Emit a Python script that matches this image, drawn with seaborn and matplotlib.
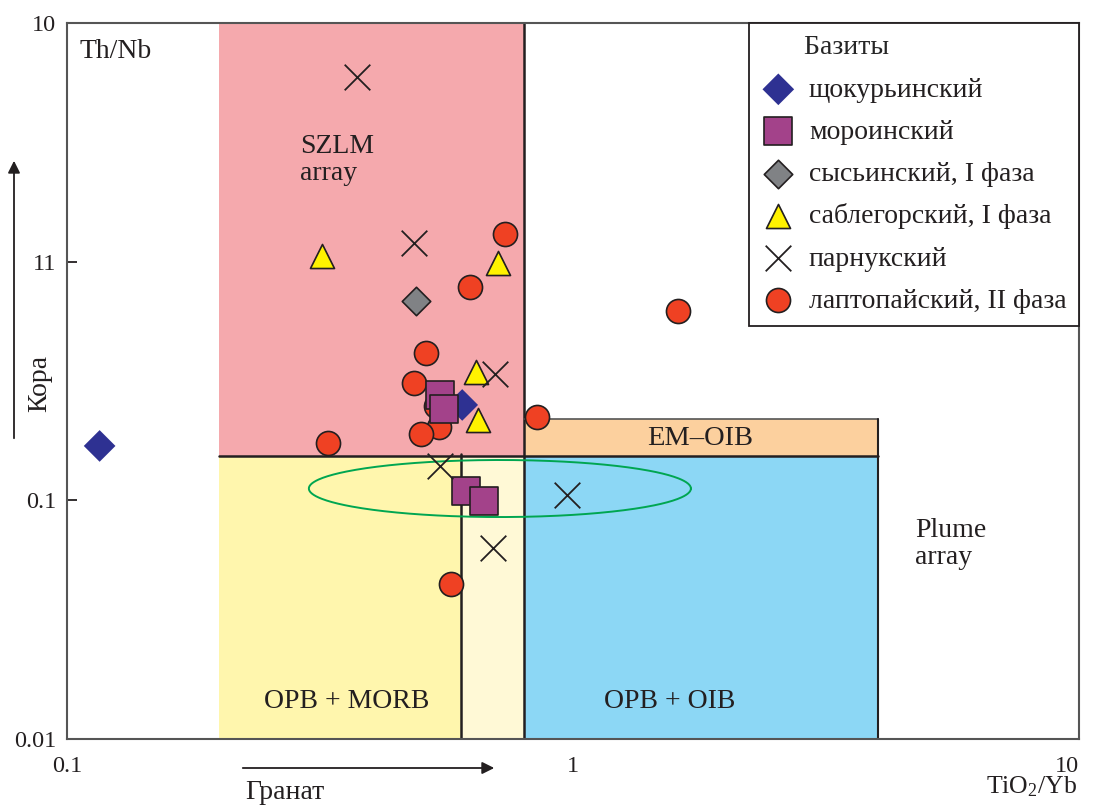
import numpy as np
import pandas as pd
import matplotlib
matplotlib.use("Agg")
import matplotlib.pyplot as plt
from matplotlib.patches import Rectangle, FancyArrowPatch
import seaborn as sns

sns.set_theme(style="white")
plt.rcParams["font.family"] = ["Liberation Serif", "DejaVu Serif"]
plt.rcParams["mathtext.fontset"] = "custom"
plt.rcParams["mathtext.rm"] = "Liberation Serif"
plt.rcParams["mathtext.it"] = "Liberation Serif:italic"

# --- sample data: TiO2/Yb (x) and Th/Nb (y) ---
shchok_x = [0.116, 0.604]
shchok_y = [0.169, 0.251]

moro_x = [0.546, 0.556, 0.615, 0.667]
moro_y = [0.277, 0.242, 0.109, 0.099]

sysya_x = [0.490]
sysya_y = [0.684]

sableg_x = [0.319, 0.711, 0.643, 0.649]
sableg_y = [1.06, 0.99, 0.345, 0.217]

parnuk_x = [0.374, 0.485, 0.702, 0.546, 0.973, 0.695]
parnuk_y = [5.94, 1.20, 0.339, 0.139, 0.105, 0.0632]

lapto_x = [0.734, 0.625, 1.61, 0.512, 0.485, 0.536, 0.543, 0.501, 0.328, 0.849, 0.574]
lapto_y = [1.31, 0.783, 0.622, 0.415, 0.310, 0.249, 0.203, 0.190, 0.174, 0.224, 0.0447]

labels = ["щокурьинский", "мороинский", "сысьинский, I фаза",
          "саблегорский, I фаза", "парнукский", "лаптопайский, II фаза"]

# --- field boundaries of the discrimination diagram ---
x_szlm = (0.2, 0.8)
y_szlm = (0.153, 10.0)
x_oib = (0.8, 4.0)
y_emoib = (0.153, 0.22)
x_morb = (0.2, 0.6)
x_trans = (0.6, 0.8)
y_low = (0.01, 0.153)

fig = plt.figure(figsize=(10.94, 8.05), dpi=100)
ax = fig.add_axes([67 / 1094, 1 - 739 / 805, 1012 / 1094, 716 / 805])
ax.set_xscale("log")
ax.set_yscale("log")
ax.set_xlim(0.1, 10)
ax.set_ylim(0.01, 10)

def field(xr, yr, color):
    ax.add_patch(Rectangle((xr[0], yr[0]), xr[1] - xr[0], yr[1] - yr[0],
                           facecolor=color, edgecolor="none", zorder=0))

field(x_szlm, y_szlm, "#F5A9AD")
field(x_oib, y_emoib, "#FCD09E")
field(x_oib, y_low, "#8CD7F5")
field(x_morb, y_low, "#FFF6AD")
field(x_trans, y_low, "#FFF9D6")

lk = dict(color="#231F20", zorder=1)
ax.plot([0.8, 0.8], [0.01, 10], lw=1.8, **lk)
ax.plot([0.2, 4.0], [0.153, 0.153], lw=1.8, **lk)
ax.plot([0.6, 0.6], [0.01, 0.157], lw=1.8, **lk)
ax.plot([0.8, 4.0], [0.22, 0.22], lw=1.2, color="#555555", zorder=1)
ax.plot([4.0, 4.0], [0.01, 0.22], lw=1.5, **lk)

# green ellipse drawn in log space
t = np.linspace(0, 2 * np.pi, 400)
ex = 10 ** (-0.1445 + 0.3775 * np.cos(t))
ey = 10 ** (-0.9505 + 0.1195 * np.sin(t))
ax.plot(ex, ey, color="#00A651", lw=1.4, zorder=1)

# --- samples ---
ek = dict(edgecolor="#231F20", linewidth=1.2, zorder=3, ax=ax)
sns.scatterplot(x=lapto_x, y=lapto_y, marker="o", s=300, color="#EF4123",
                label=labels[5], **ek)
sns.scatterplot(x=shchok_x, y=shchok_y, marker="D", s=260, color="#2E3192",
                edgecolor="none", label=labels[0], zorder=3, ax=ax)
sns.scatterplot(x=moro_x, y=moro_y, marker="s", s=380, color="#A3428A",
                label=labels[1], **ek)
sns.scatterplot(x=sysya_x, y=sysya_y, marker="D", s=210, color="#808285",
                label=labels[2], **ek)
sns.scatterplot(x=sableg_x, y=sableg_y, marker="^", s=300, color="#FFF200",
                label=labels[3], **ek)
sns.scatterplot(x=parnuk_x, y=parnuk_y, marker="x", s=340, color="#231F20",
                linewidth=1.3, label=labels[4], zorder=3, ax=ax)

# --- field labels ---
fs = 20
tc = "#231F20"
ax.text(0.106, 7.6, "Th/Nb", fontsize=fs, color=tc, va="center")
ax.text(0.289, 3.05, "SZLM", fontsize=fs, color=tc, va="center")
ax.text(0.289, 2.33, "array", fontsize=fs, color=tc, va="center")
ax.text(1.78, 0.181, "EM–OIB", fontsize=20.5, color=tc, ha="center", va="center")
ax.text(0.357, 0.0143, "OPB + MORB", fontsize=fs, color=tc, ha="center", va="center")
ax.text(1.555, 0.0143, "OPB + OIB", fontsize=fs, color=tc, ha="center", va="center")
ax.text(4.74, 0.0751, "Plume", fontsize=fs, color=tc, va="center")
ax.text(4.74, 0.0574, "array", fontsize=fs, color=tc, va="center")

# --- axes styling ---
for s in ax.spines.values():
    s.set_color("#555555")
    s.set_linewidth(1.5)
ax.set_yticks([0.01, 0.1, 1, 10])
ax.set_yticklabels(["0.01", "0.1", "11", "10"])
ax.set_xticks([0.1, 1, 10])
ax.set_xticklabels(["0.1", "1", "10"])
ax.minorticks_off()
ax.tick_params(axis="y", direction="in", length=7, width=1.3, color=tc,
               labelsize=17.5, labelcolor=tc, pad=8, left=True)
ax.tick_params(axis="x", length=0, labelsize=17.5, labelcolor=tc, pad=12)
ax.get_xticklabels()[-1].set_horizontalalignment("right")
ax.set_xlabel("")
ax.set_ylabel("")

# legend
handles, lbls = ax.get_legend_handles_labels()
order = [labels.index(l) for l in lbls]
pairs = sorted(zip(order, handles, lbls))
leg = ax.legend([p[1] for p in pairs], [p[2] for p in pairs],
                title="      Базиты", loc="upper right", bbox_to_anchor=(1.0, 1.0),
                borderaxespad=0, fancybox=False, framealpha=1, edgecolor=tc,
                fontsize=fs, title_fontsize=fs, labelspacing=0.6, handletextpad=0.5,
                handlelength=1.2, borderpad=0.45, alignment="left")
leg.get_frame().set_linewidth(1.3)
leg.set_zorder(5)
for txt in leg.get_texts():
    txt.set_color(tc)

# axis captions with direction arrows
fig.text(1077 / 1094, 1 - 787 / 805, "TiO$_\\mathregular{2}$/Yb", fontsize=18.5,
         color=tc, va="center", ha="right")
fig.text(245 / 1094, 1 - 792 / 805, "Гранат", fontsize=fs, color=tc,
         va="center", ha="left")
fig.text(40 / 1094, 1 - 383 / 805, "Кора", fontsize=fs, color=tc,
         va="center", ha="center", rotation=90)
fig.add_artist(FancyArrowPatch(
    (240 / 1094, 1 - 768 / 805), (497 / 1094, 1 - 768 / 805),
    transform=fig.transFigure, arrowstyle="-|>", mutation_scale=18,
    color=tc, lw=1.3))
fig.add_artist(FancyArrowPatch(
    (14 / 1094, 1 - 441 / 805), (14 / 1094, 1 - 158 / 805),
    transform=fig.transFigure, arrowstyle="-|>", mutation_scale=18,
    color=tc, lw=1.3))

fig.savefig("out.png", dpi=100)
